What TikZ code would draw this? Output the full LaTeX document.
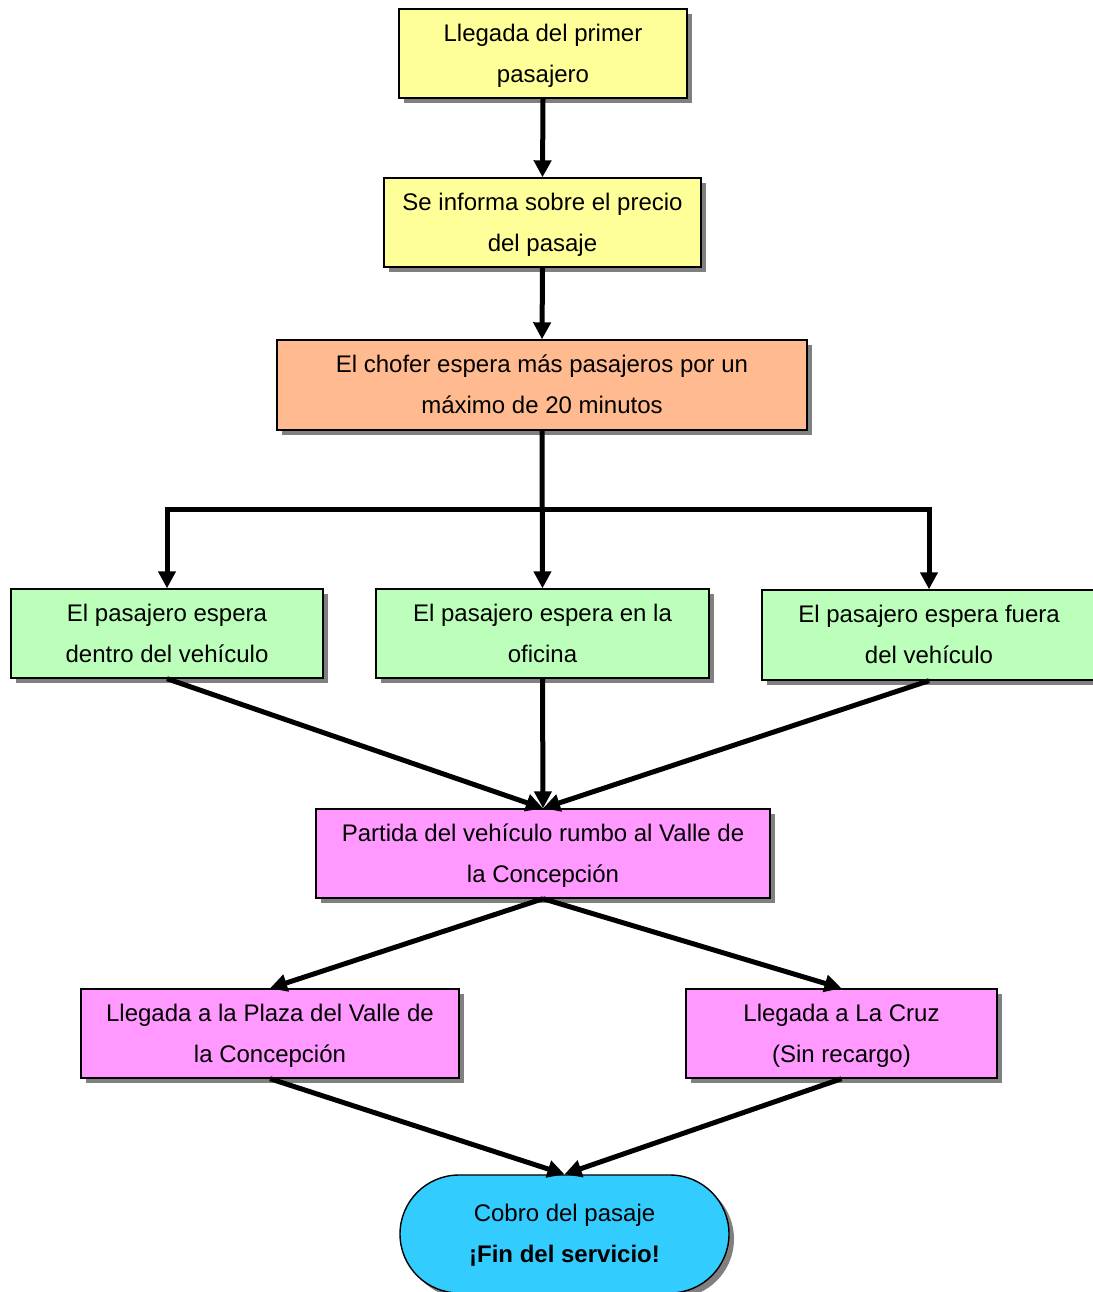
\documentclass[tikz,border=0pt]{standalone}
\usepackage{fontspec}
\setmainfont{Liberation Sans}
\usetikzlibrary{arrows.meta,shadows,shapes.misc}
\definecolor{yel}{HTML}{FFFF99}
\definecolor{ora}{HTML}{FFBB8F}
\definecolor{grn}{HTML}{BBFFBB}
\definecolor{mag}{HTML}{FF99FF}
\definecolor{cya}{HTML}{33CCFF}
\definecolor{shd}{HTML}{808080}
\newcommand\tx[1]{\begin{tabular}{@{}c@{}}#1\end{tabular}}
\tikzset{
  box/.style={draw=black, line width=1.4pt, inner sep=0pt,
    font=\fontsize{24}{41}\selectfont,
    drop shadow={shadow xshift=5pt, shadow yshift=-5pt, fill=shd, opacity=1}},
  arr/.style={line width=5pt, -{Triangle[length=17pt,width=17pt]}}
}
\begin{document}
\begin{tikzpicture}[x=1pt,y=-1pt]
\useasboundingbox (0,0) rectangle (1092,1292);
\node[box, fill=yel, minimum width=288pt, minimum height=89pt] (n1) at (543,53.5) {\tx{Llegada del primer\\pasajero}};
\node[box, fill=yel, minimum width=317pt, minimum height=89pt] (n2) at (542.5,222.5) {\tx{Se informa sobre el precio\\del pasaje}};
\node[box, fill=ora, minimum width=530pt, minimum height=90pt] (n3) at (542,385) {\tx{El chofer espera más pasajeros por un\\máximo de 20 minutos}};
\node[box, fill=grn, minimum width=312pt, minimum height=89pt] (n4a) at (167,633.5) {\tx{El pasajero espera\\dentro del vehículo}};
\node[box, fill=grn, minimum width=333pt, minimum height=89pt] (n4b) at (542.5,633.5) {\tx{El pasajero espera en la\\oficina}};
\node[box, fill=grn, minimum width=334pt, minimum height=90pt] (n4c) at (929,635) {\tx{El pasajero espera fuera\\del vehículo}};
\node[box, fill=mag, minimum width=454pt, minimum height=89pt] (n5) at (543,853.5) {\tx{Partida del vehículo rumbo al Valle de\\la Concepción}};
\node[box, fill=mag, minimum width=378pt, minimum height=89pt] (n6) at (270,1033.5) {\tx{Llegada a la Plaza del Valle de\\la Concepción}};
\node[box, fill=mag, minimum width=311pt, minimum height=89pt] (n7) at (841.5,1033.5) {\tx{Llegada a La Cruz\\(Sin recargo)}};
\node[box, fill=cya, rounded rectangle, minimum width=329pt, minimum height=118pt] (n8) at (564.5,1234) {\tx{Cobro del pasaje\\\textbf{¡Fin del servicio!}}};

\coordinate (split) at (542,509);
\draw[arr] (n1.south) -- (n2.north);
\draw[arr] (n2.south) -- (n3.north);
\draw[arr] (n3.south) -- (n4b.north);
\draw[arr] (split) -| (n4a.north);
\draw[arr] (split) -| (n4c.north);
\draw[arr] (n4a.south) -- (n5.north);
\draw[arr] (n4b.south) -- (n5.north);
\draw[arr] (n4c.south) -- (n5.north);
\draw[arr] (n5.south) -- (n6.north);
\draw[arr] (n5.south) -- (n7.north);
\draw[arr] (n6.south) -- (n8.north);
\draw[arr] (n7.south) -- (n8.north);
\end{tikzpicture}
\end{document}
